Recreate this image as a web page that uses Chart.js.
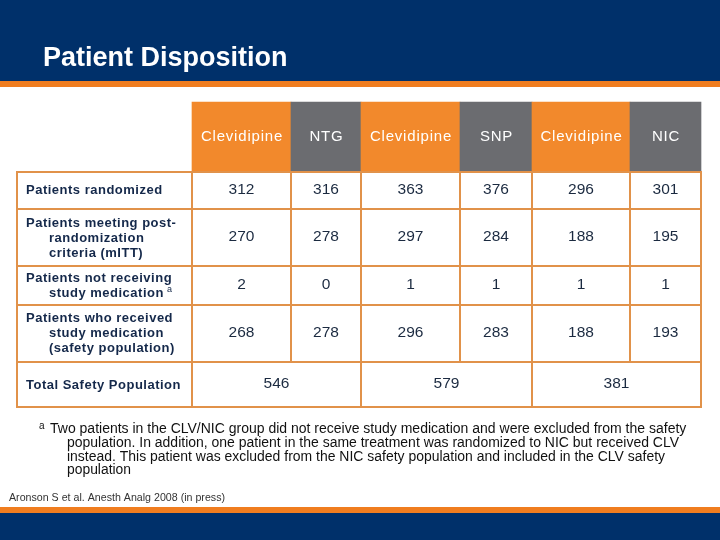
<!DOCTYPE html>
<html>
<head>
<meta charset="utf-8">
<style>
html,body{margin:0;padding:0;background:#fff;}
canvas{display:block;}
</style>
<script src="https://cdn.jsdelivr.net/npm/chart.js@4.4.1/dist/chart.umd.min.js"></script>
</head>
<body>
<canvas id="c" width="720" height="540"></canvas>
<script>
// ---- data ----
const titleText = 'Patient Disposition';
const groupLabels = ['Clevidipine', 'NTG', 'Clevidipine', 'SNP', 'Clevidipine', 'NIC'];
const rowLabels = [
  ['Patients randomized'],
  ['Patients meeting post-', 'randomization', 'criteria (mITT)'],
  ['Patients not receiving', 'study medication'],
  ['Patients who received', 'study medication', '(safety population)']
];
const patientsRandomized = [312, 316, 363, 376, 296, 301];
const meetingCriteria = [270, 278, 297, 284, 188, 195];
const notReceiving = [2, 0, 1, 1, 1, 1];
const receivedMedication = [268, 278, 296, 283, 188, 193];
const totalLabel = 'Total Safety Population';
const totalSafety = [546, 579, 381];
const footnoteLines = [
  'Two patients in the CLV/NIC group did not receive study medication and were excluded from the safety',
  'population. In addition, one patient in the same treatment was randomized to NIC but received CLV',
  'instead. This patient was excluded from the NIC safety population and included in the CLV safety',
  'population'
];
const citation = 'Aronson S et al. Anesth Analg 2008 (in press)';

// ---- layout / style ----
const colEdges = [192, 291, 361, 460, 532, 630, 701];
const rowEdges = [172, 209, 266, 305, 362, 407];
const tableLeft = 17;
const headerTop = 102, headerBottom = 171;
const NAVY = '#00306A', ORANGE = '#F07D1F', HEAD_OR = '#F2892C', HEAD_GR = '#6B6C70';
const GRID = '#E1924A', TXT = '#14284A', VAL = '#1B2A40';
const FONT = 'Arial, "Liberation Sans", sans-serif';

const rowValues = [patientsRandomized, meetingCriteria, notReceiving, receivedMedication];
const labelLineY = [[190], [223, 238, 253], [278, 293], [318, 333, 348]];

const tablePlugin = {
  id: 'tablePlugin',
  beforeDraw(chart) {
    const ctx = chart.ctx;
    const xs = chart.scales.x, ys = chart.scales.y;
    const X = v => xs.getPixelForValue(v), Y = v => ys.getPixelForValue(v);
    ctx.save();
    ctx.fillStyle = '#fff';
    ctx.fillRect(0, 0, chart.width, chart.height);
    ctx.fillStyle = NAVY; ctx.fillRect(X(0), Y(0), X(720) - X(0), Y(81) - Y(0));
    ctx.fillStyle = ORANGE; ctx.fillRect(X(0), Y(81), X(720) - X(0), Y(87) - Y(81));
    ctx.fillStyle = ORANGE; ctx.fillRect(X(0), Y(507), X(720) - X(0), Y(513) - Y(507));
    ctx.fillStyle = NAVY; ctx.fillRect(X(0), Y(513), X(720) - X(0), Y(540) - Y(513));
    ctx.fillStyle = '#fff';
    ctx.font = 'bold 27px ' + FONT;
    ctx.textBaseline = 'alphabetic';
    ctx.textAlign = 'left';
    ctx.fillText(titleText, X(43), Y(66), 250);
    ctx.fillStyle = '#fff';
    ctx.fillRect(X(tableLeft), Y(rowEdges[0]), X(colEdges[6]) - X(tableLeft), Y(rowEdges[5]) - Y(rowEdges[0]));
    ctx.restore();
  },
  afterDatasetsDraw(chart) {
    const ctx = chart.ctx;
    const xs = chart.scales.x, ys = chart.scales.y;
    const X = v => xs.getPixelForValue(v), Y = v => ys.getPixelForValue(v);
    ctx.save();
    ctx.strokeStyle = GRID; ctx.lineWidth = 2;
    const line = (x1, y1, x2, y2) => { ctx.beginPath(); ctx.moveTo(X(x1), Y(y1)); ctx.lineTo(X(x2), Y(y2)); ctx.stroke(); };
    ctx.strokeRect(X(tableLeft), Y(rowEdges[0]), X(colEdges[6]) - X(tableLeft), Y(rowEdges[5]) - Y(rowEdges[0]));
    for (let r = 1; r < rowEdges.length - 1; r++) line(tableLeft, rowEdges[r], colEdges[6], rowEdges[r]);
    [0, 2, 4].forEach(i => line(colEdges[i], rowEdges[0], colEdges[i], rowEdges[5]));
    [1, 3, 5].forEach(i => line(colEdges[i], rowEdges[0], colEdges[i], rowEdges[4]));

    ctx.fillStyle = '#fff';
    ctx.font = '15px ' + FONT;
    ctx.textAlign = 'center'; ctx.textBaseline = 'middle';
    ctx.letterSpacing = '0.8px';
    groupLabels.forEach((g, i) => {
      ctx.fillText(g, X((colEdges[i] + colEdges[i + 1]) / 2) + 0.5, Y((headerTop + headerBottom) / 2));
    });
    ctx.letterSpacing = '0px';

    ctx.fillStyle = TXT;
    ctx.font = 'bold 13px ' + FONT;
    ctx.textAlign = 'left';
    ctx.letterSpacing = '0.5px';
    rowLabels.forEach((lines, r) => {
      lines.forEach((t, k) => {
        ctx.fillText(t, X(k === 0 ? 26 : 49), Y(labelLineY[r][k]));
      });
    });
    ctx.fillText(totalLabel, X(26), Y(385));
    const w = ctx.measureText(rowLabels[2][1]).width;
    ctx.letterSpacing = '0px';
    ctx.font = '9px ' + FONT;
    ctx.fillText('a', X(49) + w + 3, Y(290));

    ctx.fillStyle = VAL;
    ctx.font = '15.5px ' + FONT;
    ctx.textAlign = 'center';
    const valY = [190, 237, 285, 333];
    rowValues.forEach((vals, r) => {
      vals.forEach((v, i) => {
        ctx.fillText(String(v), X((colEdges[i] + colEdges[i + 1]) / 2), Y(valY[r]));
      });
    });
    totalSafety.forEach((v, j) => {
      ctx.fillText(String(v), X((colEdges[2 * j] + colEdges[2 * j + 2]) / 2), Y(384));
    });

    ctx.fillStyle = '#111';
    ctx.textAlign = 'left';
    ctx.font = '10px ' + FONT;
    ctx.fillText('a', X(39), Y(426));
    ctx.font = '14px ' + FONT;
    const fx = [50, 67, 67, 67], fy = [429, 443, 457, 470], fw = [637, 612, 598, 64];
    footnoteLines.forEach((t, k) => ctx.fillText(t, X(fx[k]), Y(fy[k]), fw[k]));
    ctx.fillStyle = '#333';
    ctx.font = '11px ' + FONT;
    ctx.fillText(citation, X(9), Y(498), 216);
    ctx.restore();
  }
};

new Chart(document.getElementById('c'), {
  type: 'bar',
  data: {
    datasets: [{
      label: 'Treatment groups',
      data: groupLabels.map((g, i) => ({ x: [colEdges[i], colEdges[i + 1]], y: (headerTop + headerBottom) / 2 })),
      backgroundColor: groupLabels.map((g, i) => i % 2 === 0 ? HEAD_OR : HEAD_GR),
      borderWidth: 0,
      borderSkipped: false,
      barThickness: headerBottom - headerTop,
      grouped: false
    }]
  },
  options: {
    indexAxis: 'y',
    responsive: false,
    animation: false,
    events: [],
    devicePixelRatio: 1,
    layout: { padding: 0 },
    scales: {
      x: { type: 'linear', min: 0, max: 720, display: false, offset: false, grace: 0 },
      y: { type: 'linear', min: 0, max: 540, reverse: true, display: false, offset: false, grace: 0 }
    },
    plugins: { legend: { display: false }, tooltip: { enabled: false } }
  },
  plugins: [tablePlugin]
});
</script>
</body>
</html>
